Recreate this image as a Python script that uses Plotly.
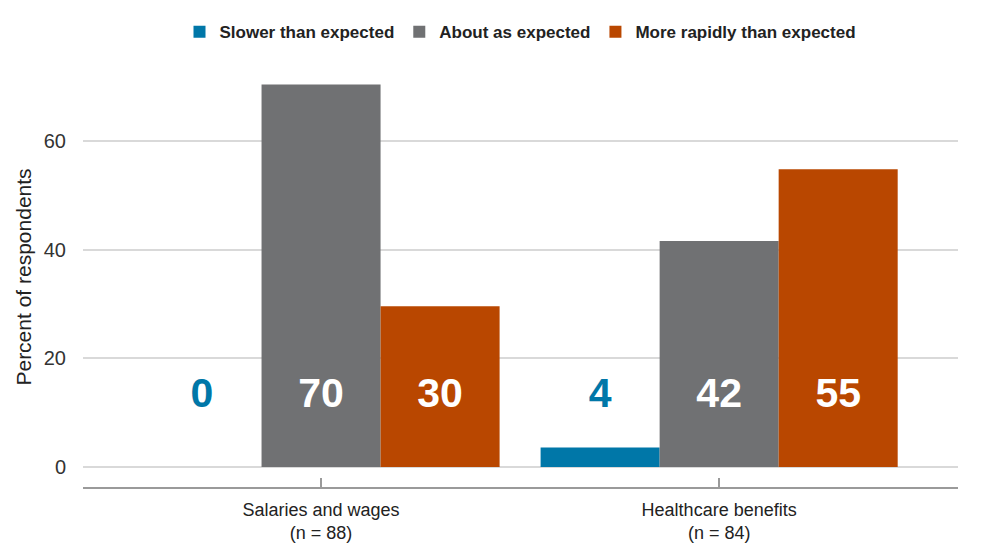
import plotly.graph_objects as go

# ── Data ───────────────────────────────────────────────────
categories = ["Salaries and wages<br>(n = 88)", "Healthcare benefits<br>(n = 84)"]
series_names = ["Slower than expected", "About as expected", "More rapidly than expected"]
slower = [0, 3.6]
about = [70.4, 41.6]
rapid = [29.6, 54.8]
slower_labels = ["0", "4"]
about_labels = ["70", "42"]
rapid_labels = ["30", "55"]
label_height = [13, 13]

colors = ["#0077A8", "#707173", "#B94700"]
label_colors = ["#0077A8", "#FFFFFF", "#FFFFFF"]

fig = go.Figure()

all_values = [slower, about, rapid]
all_labels = [slower_labels, about_labels, rapid_labels]

# ── Bars ──
for i, (name, vals) in enumerate(zip(series_names, all_values)):
    fig.add_trace(go.Bar(
        x=categories, y=vals, name=name,
        marker=dict(color=colors[i], line=dict(width=0)),
        offsetgroup=str(i), hoverinfo="skip"
    ))

# ── Value labels at fixed height, grouped like the bars ──
for i, labels in enumerate(all_labels):
    fig.add_trace(go.Scatter(
        x=categories, y=label_height, mode="text", text=labels,
        textfont=dict(family="Liberation Sans Narrow, Liberation Sans, Arial", size=41,
                      color=label_colors[i], weight="bold"),
        offsetgroup=str(i), showlegend=False, hoverinfo="skip"
    ))

# page body has an 8px margin, so margins are shifted to compensate
fig.update_layout(
    width=991, height=557,
    barmode="group", scattermode="group",
    bargap=0.103, bargroupgap=0, scattergap=0.103,
    paper_bgcolor="white", plot_bgcolor="white",
    font=dict(family="Liberation Sans, Arial", color="#222222"),
    margin=dict(l=75, r=41, t=59, b=78, autoexpand=False),
    legend=dict(
        orientation="h", x=0.5, xanchor="center", y=1.083, yanchor="middle",
        font=dict(size=17, color="#222222", weight="bold"),
        itemwidth=30, traceorder="normal"
    ),
    showlegend=True,
)

fig.update_xaxes(
    range=[-0.598, 1.6], automargin=False,
    showline=True, linecolor="#9a9a9a", linewidth=2,
    ticks="inside", tickcolor="#9a9a9a", ticklen=9, tickwidth=2,
    tickfont=dict(size=18, color="#222222"),
    ticklabelstandoff=5,
    showgrid=False, zeroline=False,
)
fig.update_yaxes(
    range=[-3.68, 73.6], automargin=False,
    tickvals=[0, 20, 40, 60],
    tickfont=dict(size=20, color="#333333"),
    gridcolor="#d9d9d9", gridwidth=1.5,
    zeroline=False, showline=False,
    ticklabelstandoff=16,
    title=dict(text="Percent of respondents", font=dict(size=21, color="#222222"), standoff=6),
)

fig.write_html("out.html")
